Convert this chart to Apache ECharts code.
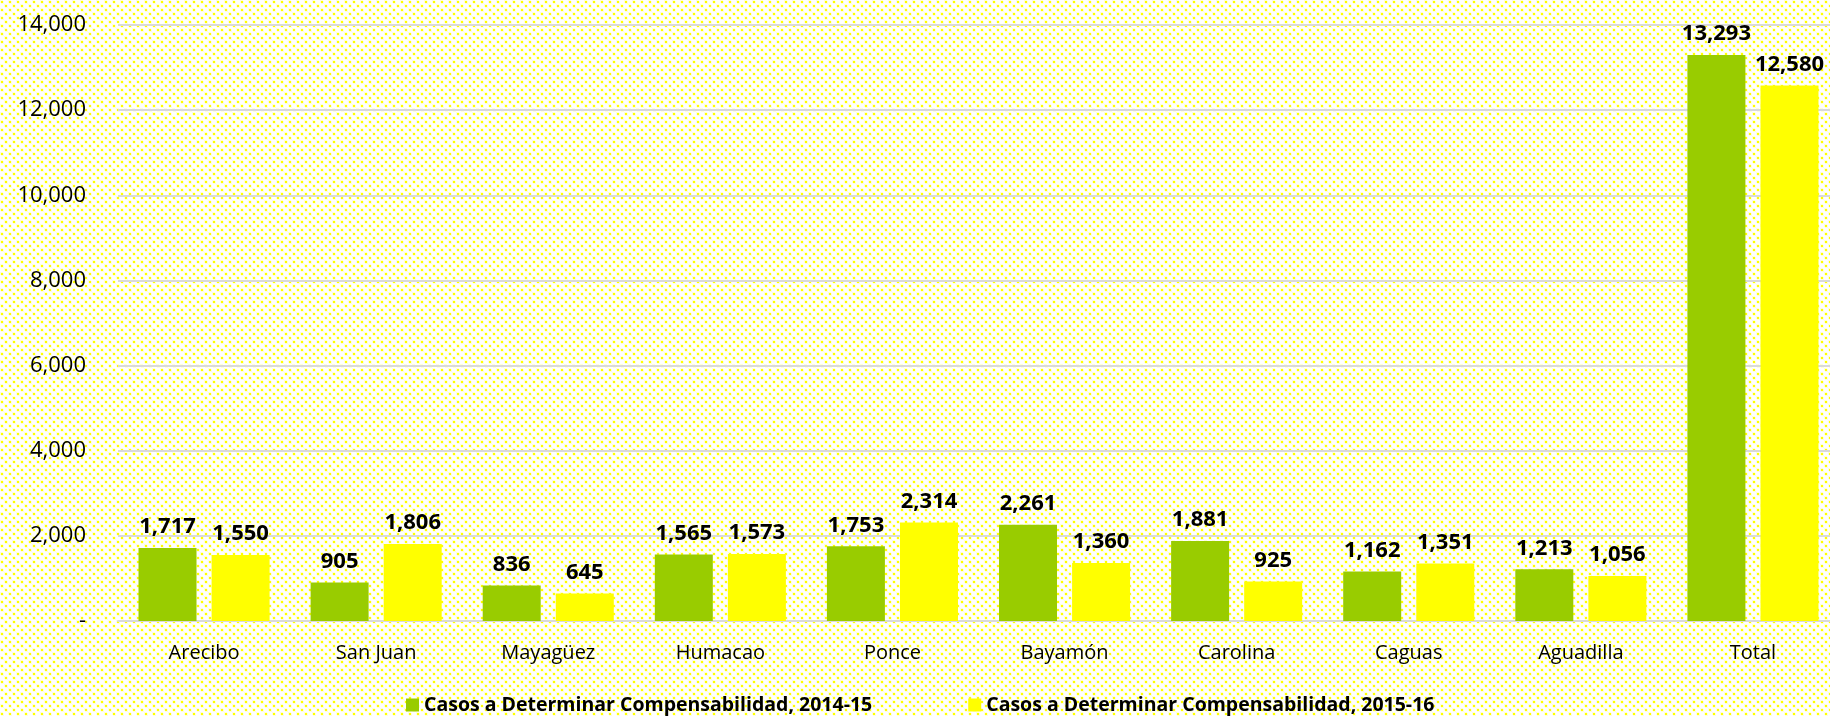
<!DOCTYPE html>
<html>
<head>
<meta charset="utf-8">
<title>Casos a Determinar Compensabilidad</title>
<script src="https://cdn.jsdelivr.net/npm/echarts@6/dist/echarts.min.js"></script>
<style>
  html, body {
    margin: 0;
    padding: 0;
  }

  #chart {
    width: 1830px;
    height: 716px;
  }
</style>
</head>
<body>
<div id="chart"></div>
<script>
const regiones = ['Arecibo', 'San Juan', 'Mayagüez', 'Humacao', 'Ponce', 'Bayamón', 'Carolina', 'Caguas', 'Aguadilla', 'Total'];
const casos2014 = [1717, 905, 836, 1565, 1753, 2261, 1881, 1162, 1213, 13293];
const casos2015 = [1550, 1806, 645, 1573, 2314, 1360, 925, 1351, 1056, 12580];
const serieNombres = ['Casos a Determinar Compensabilidad, 2014-15', 'Casos a Determinar Compensabilidad, 2015-16'];

// fondo punteado amarillo
const tile = document.createElement('canvas');
tile.width = 8;
tile.height = 8;
const ctx = tile.getContext('2d');
ctx.fillStyle = '#ffffff';
ctx.fillRect(0, 0, 8, 8);
ctx.fillStyle = 'rgba(255,255,0,0.15)';
ctx.fillRect(0, 0, 4, 4);
ctx.fillRect(4, 4, 4, 4);
ctx.fillStyle = '#ffffff';
ctx.fillRect(0, 3, 1, 1);
ctx.fillRect(3, 0, 1, 1);
ctx.fillRect(4, 7, 1, 1);
ctx.fillRect(7, 4, 1, 1);
ctx.fillStyle = '#ffff00';
ctx.fillRect(1, 1, 2, 2);
ctx.fillRect(5, 5, 2, 2);

const fmt = v => v.toLocaleString('en-US');

const labelStyle = {
  show: true,
  position: 'top',
  distance: 10,
  color: '#000',
  fontFamily: 'Open Sans',
  fontWeight: 'bold',
  fontSize: 22,
  formatter: p => fmt(p.value)
};

const chart = echarts.init(document.getElementById('chart'));
chart.setOption({
  backgroundColor: { image: tile, repeat: 'repeat' },
  animation: false,
  color: ['#99cc00', '#ffff00'],
  grid: {
    left: 118,
    top: 25,
    width: 1721,
    bottom: 95,
    outerBoundsMode: 'none'
  },
  legend: {
    left: 401,
    top: 690,
    itemWidth: 13,
    itemHeight: 13,
    itemGap: 96,
    icon: 'rect',
    textStyle: {
      fontFamily: 'Open Sans',
      fontWeight: 'bold',
      fontSize: 19.5,
      color: '#000'
    },
    data: serieNombres
  },
  xAxis: {
    type: 'category',
    data: regiones,
    axisLine: { lineStyle: { color: '#d9d9d9', width: 2 } },
    axisTick: { show: false },
    axisLabel: {
      margin: 22,
      fontFamily: 'Open Sans',
      fontSize: 20,
      color: '#000'
    }
  },
  yAxis: {
    type: 'value',
    min: 0,
    max: 14000,
    interval: 2000,
    axisLine: { show: false },
    axisTick: { show: false },
    splitLine: { lineStyle: { color: '#d9d9d9', width: 2 } },
    axisLabel: {
      margin: 32,
      fontFamily: 'Open Sans',
      fontSize: 22,
      color: '#000',
      formatter: v => v === 0 ? '-' : fmt(v)
    }
  },
  series: [
    {
      name: serieNombres[0],
      type: 'bar',
      data: casos2014,
      barWidth: 58,
      barGap: '26%',
      label: labelStyle
    },
    {
      name: serieNombres[1],
      type: 'bar',
      data: casos2015,
      barWidth: 58,
      barGap: '26%',
      label: labelStyle
    }
  ]
});
</script>
</body>
</html>
